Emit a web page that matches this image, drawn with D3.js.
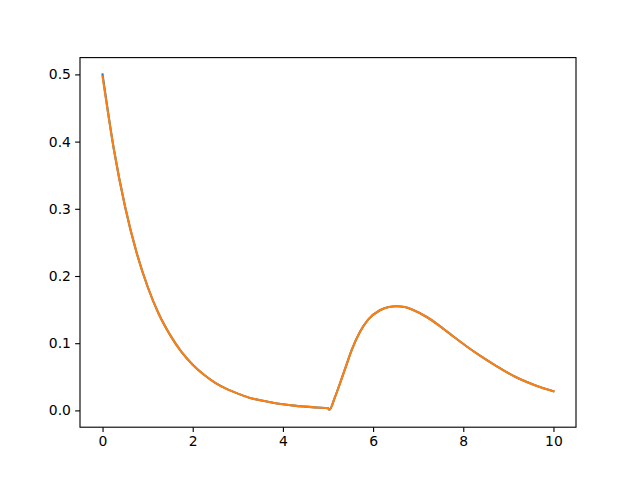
<!DOCTYPE html>
<html>
<head>
<meta charset="utf-8">
<script src="https://cdn.jsdelivr.net/npm/d3@7"></script>
<style>
  body { margin: 0; background: #fff; }
  text { font-family: "DejaVu Sans", sans-serif; }
</style>
</head>
<body>
<div id="chart"></div>
<script>
// values
const times = [0, 0.25, 0.5, 0.75, 1, 1.25, 1.5, 1.75, 2, 2.25, 2.5, 2.75, 3, 3.25, 3.5, 3.75,
    4, 4.25, 4.5, 4.75, 5, 5.03, 5.15, 5.27, 5.39, 5.52, 5.71, 5.89, 6.15, 6.35, 6.52, 6.7,
    6.89, 7.19, 7.48, 7.78, 8.07, 8.37, 8.7, 9.15, 9.59, 10];

const blueValues = [0.5, 0.389, 0.303, 0.236, 0.184, 0.143, 0.112, 0.087, 0.068, 0.053, 0.041,
    0.032, 0.025, 0.019, 0.015, 0.0118, 0.0092, 0.0071, 0.0056, 0.0043, 0.0034, 0.001, 0.019,
    0.041, 0.064, 0.089, 0.117, 0.135, 0.149, 0.154, 0.155, 0.1538, 0.1495, 0.139, 0.1255, 0.110,
    0.0955, 0.0815, 0.0675, 0.050, 0.0375, 0.0285];

const orangeValues = [0.497, 0.389, 0.303, 0.236, 0.184, 0.143, 0.112, 0.087, 0.068, 0.053, 0.041,
    0.032, 0.025, 0.019, 0.015, 0.0118, 0.0092, 0.0071, 0.0056, 0.0043, 0.0034, 0.001, 0.019,
    0.041, 0.064, 0.089, 0.117, 0.135, 0.149, 0.154, 0.155, 0.1538, 0.1495, 0.139, 0.1255, 0.110,
    0.0955, 0.0815, 0.0675, 0.050, 0.0375, 0.0285];

const xTicks = [0, 2, 4, 6, 8, 10];
const yTicks = [0.0, 0.1, 0.2, 0.3, 0.4, 0.5];

const width = 640, height = 480;
const margin = { top: 57.6, right: 64, bottom: 52.8, left: 80 };
const w = width - margin.left - margin.right;
const h = height - margin.top - margin.bottom;

const svg = d3.select("#chart")
    .append("svg")
    .attr("width", width)
    .attr("height", height)
    .append("g")
    .attr("transform", "translate(" + margin.left + "," + margin.top + ")");

// matplotlib style 5% margins
const xScale = d3.scaleLinear().domain([-0.5, 10.5]).range([0, w]);
const yScale = d3.scaleLinear().domain([-0.025, 0.525]).range([h, 0]);

const line = d3.line()
    .x(d => xScale(d[0]))
    .y(d => yScale(d[1]))
    .curve(d3.curveMonotoneX);

const series = [
    { color: "#1f77b4", values: blueValues },
    { color: "#ff7f0e", values: orangeValues }
];

series.forEach(s => {
    svg.append("path")
        .datum(times.map((t, i) => [t, s.values[i]]))
        .attr("fill", "none")
        .attr("stroke", s.color)
        .attr("stroke-width", 2.08)
        .attr("stroke-linecap", "square")
        .attr("stroke-linejoin", "round")
        .attr("d", line);
});

// axes
const xAxis = d3.axisBottom(xScale)
    .tickValues(xTicks)
    .tickFormat(d3.format("d"))
    .tickSize(4.86)
    .tickPadding(4.2);
const yAxis = d3.axisLeft(yScale)
    .tickValues(yTicks)
    .tickFormat(d3.format(".1f"))
    .tickSize(4.86)
    .tickPadding(4.2);

const gx = svg.append("g")
    .attr("transform", "translate(0," + h + ")")
    .call(xAxis);
const gy = svg.append("g")
    .call(yAxis);

[gx, gy].forEach(g => {
    g.select(".domain").remove();
    g.selectAll(".tick line").attr("stroke", "#000").attr("stroke-width", 1.11);
    g.selectAll(".tick text")
        .attr("fill", "#000")
        .style("font-size", "13.9px")
        .style("font-family", "'DejaVu Sans', sans-serif");
});

// frame
svg.append("rect")
    .attr("x", 0)
    .attr("y", 0)
    .attr("width", w)
    .attr("height", h)
    .attr("fill", "none")
    .attr("stroke", "#000")
    .attr("stroke-width", 1.11);
</script>
</body>
</html>
